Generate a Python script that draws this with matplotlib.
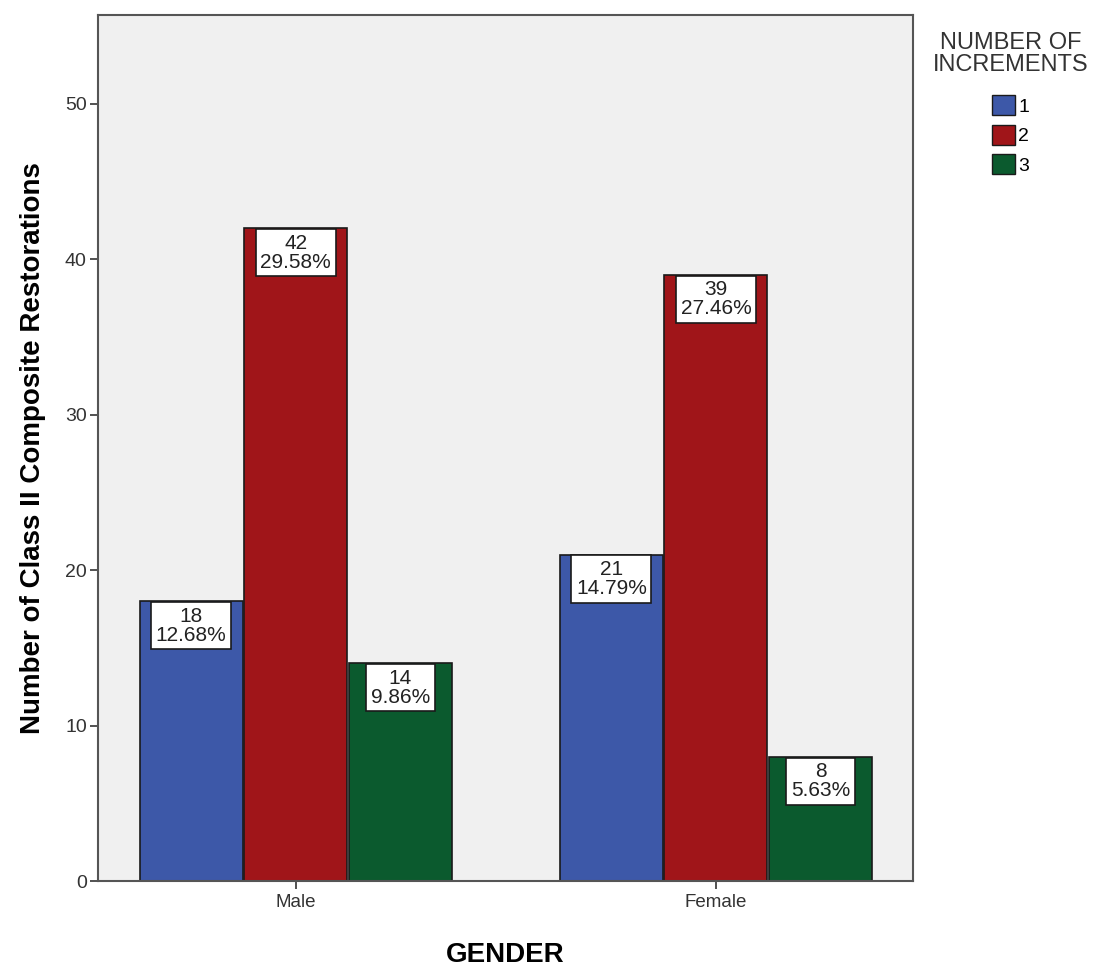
import numpy as np
import matplotlib.pyplot as plt
from matplotlib.patches import Patch

plt.rcParams['font.family'] = ['Liberation Sans', 'DejaVu Sans']

genders = ["Male", "Female"]
increments = ["1", "2", "3"]
counts = {
    "1": [18, 21],
    "2": [42, 39],
    "3": [14, 8],
}
percents = {
    "1": ["12.68%", "14.79%"],
    "2": ["29.58%", "27.46%"],
    "3": ["9.86%", "5.63%"],
}
colors = ["#3d58a8", "#a01519", "#0b5a2e"]

fig = plt.figure(figsize=(10.96, 9.67), dpi=100)
ax = fig.add_axes([0.0894, 0.0889, 0.7436, 0.8956])
ax.set_facecolor("#f0f0f0")

x = np.arange(len(genders))
width = 0.245
for i, inc in enumerate(increments):
    pos = x + (i - 1) * (width + 0.004)
    ax.bar(pos, counts[inc], width=width, color=colors[i],
           edgecolor="#1a1a1a", linewidth=1.2, zorder=2)
    for px, v, pct in zip(pos, counts[inc], percents[inc]):
        ax.annotate(f"{v}\n{pct}", xy=(px, v), xytext=(0, -4),
                    textcoords="offset points", ha="center", va="top",
                    fontsize=15, color="#222222", linespacing=1.0, zorder=3,
                    bbox=dict(boxstyle="square,pad=0.22", fc="white",
                              ec="#1a1a1a", lw=1.2))

ax.set_xlim(-0.471, 1.469)
ax.set_ylim(0, 55.7)
ax.set_yticks([0, 10, 20, 30, 40, 50])
ax.set_xticks(x)
ax.set_xticklabels(genders, fontsize=13.5, color="#333333")
ax.tick_params(axis="y", labelsize=14, labelcolor="#333333", length=6,
               width=1.2, color="#333333", pad=2)
ax.tick_params(axis="x", length=6, width=1.2, color="#333333")
for s in ax.spines.values():
    s.set_color("#555555")
    s.set_linewidth(1.5)

ax.set_ylabel("Number of Class II Composite Restorations", fontsize=20,
              fontweight="bold", labelpad=14)
ax.set_xlabel("GENDER", fontsize=20, fontweight="bold", labelpad=22)

handles = [Patch(facecolor=c, edgecolor="#1a1a1a") for c in colors]
leg = fig.legend(handles, increments, title="NUMBER OF\nINCREMENTS",
                 loc="upper center", bbox_to_anchor=(0.922, 0.985),
                 frameon=False, fontsize=14, title_fontsize=17,
                 handlelength=1.2, handleheight=1.2, handletextpad=0.15,
                 labelspacing=0.45)
leg.get_title().set_color("#333333")
leg.get_title().set_multialignment("center")
leg.get_title().set_linespacing(1.0)
leg._legend_box.sep = 14

fig.savefig("out.png", dpi=100)
